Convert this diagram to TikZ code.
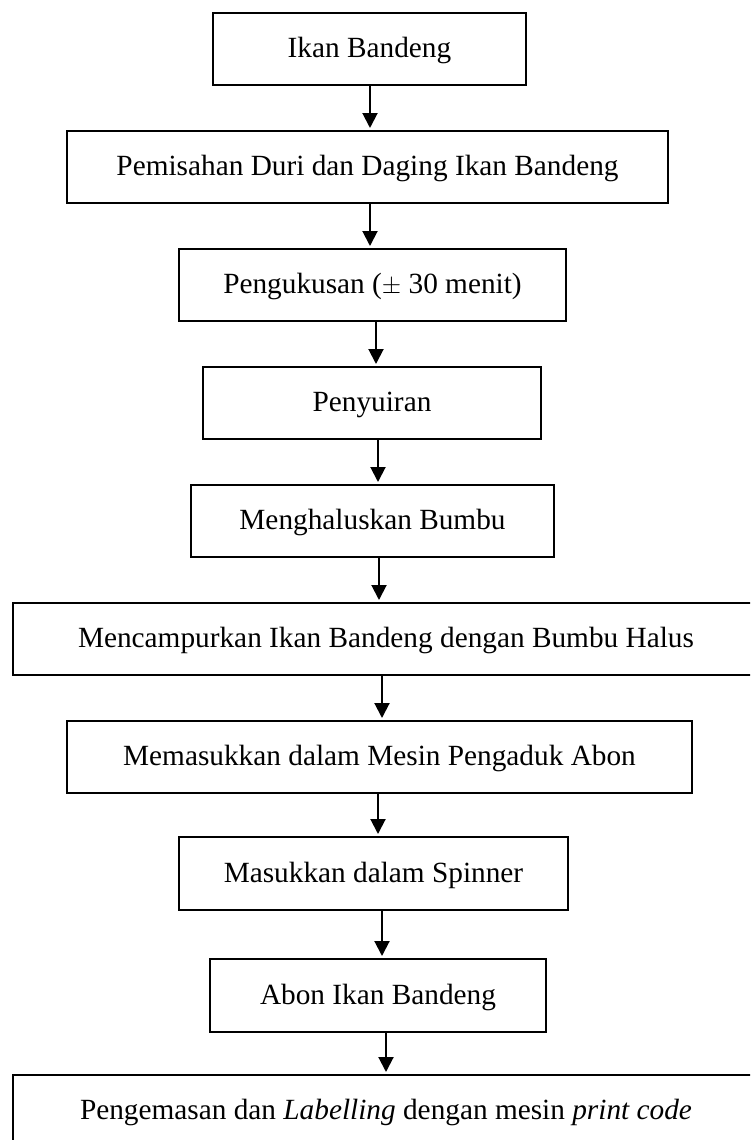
\documentclass[tikz,border=0pt]{standalone}
\usepackage{fontspec}
\setmainfont{Liberation Serif}
\usetikzlibrary{arrows.meta}
\begin{document}
\begin{tikzpicture}[x=1pt,y=-1pt,
  stepbox/.style={draw,line width=2pt,minimum height=72pt,inner sep=0pt,
    font=\fontsize{29.3}{35}\selectfont,text height=23.4pt,text depth=6.4pt},
  arr/.style={line width=2pt,-{Triangle[length=15pt,width=15pt]},shorten >=2pt}]
\useasboundingbox (0,0) rectangle (750,1140);
\clip (0,0) rectangle (750,1140);
\node[stepbox,minimum width=313pt] (b1) at (369.5,49) {Ikan Bandeng};
\node[stepbox,minimum width=601pt] (b2) at (367.5,167) {Pemisahan Duri dan Daging Ikan Bandeng};
\node[stepbox,minimum width=387pt] (b3) at (372.5,285) {Pengukusan ($\pm$ 30 menit)};
\node[stepbox,minimum width=338pt] (b4) at (372,403) {Penyuiran};
\node[stepbox,minimum width=363pt] (b5) at (372.5,521) {Menghaluskan Bumbu};
\node[stepbox,minimum width=746pt] (b6) at (386,639) {Mencampurkan Ikan Bandeng dengan Bumbu Halus};
\node[stepbox,minimum width=625pt] (b7) at (379.5,757) {Memasukkan dalam Mesin Pengaduk Abon};
\node[stepbox,minimum width=389pt,minimum height=73pt] (b8) at (373.5,873.5) {Masukkan dalam Spinner};
\node[stepbox,minimum width=336pt,minimum height=73pt] (b9) at (378,995.5) {Abon Ikan Bandeng};
\node[stepbox,minimum width=746pt] (b10) at (386,1111) {Pengemasan dan \textit{Labelling} dengan mesin \textit{print code}};
\draw[arr] ([xshift=0.5pt]b1.south) -- ([xshift=0.5pt]b1.south |- b2.north);
\draw[arr] ([xshift=2.5pt]b2.south) -- ([xshift=2.5pt]b2.south |- b3.north);
\draw[arr] ([xshift=3.5pt]b3.south) -- ([xshift=3.5pt]b3.south |- b4.north);
\draw[arr] ([xshift=6pt]b4.south) -- ([xshift=6pt]b4.south |- b5.north);
\draw[arr] ([xshift=6.5pt]b5.south) -- ([xshift=6.5pt]b5.south |- b6.north);
\draw[arr] ([xshift=-4pt]b6.south) -- ([xshift=-4pt]b6.south |- b7.north);
\draw[arr] ([xshift=-1.5pt]b7.south) -- ([xshift=-1.5pt]b7.south |- b8.north);
\draw[arr] ([xshift=8.5pt]b8.south) -- ([xshift=8.5pt]b8.south |- b9.north);
\draw[arr] ([xshift=8pt]b9.south) -- ([xshift=8pt]b9.south |- b10.north);
\end{tikzpicture}
\end{document}
